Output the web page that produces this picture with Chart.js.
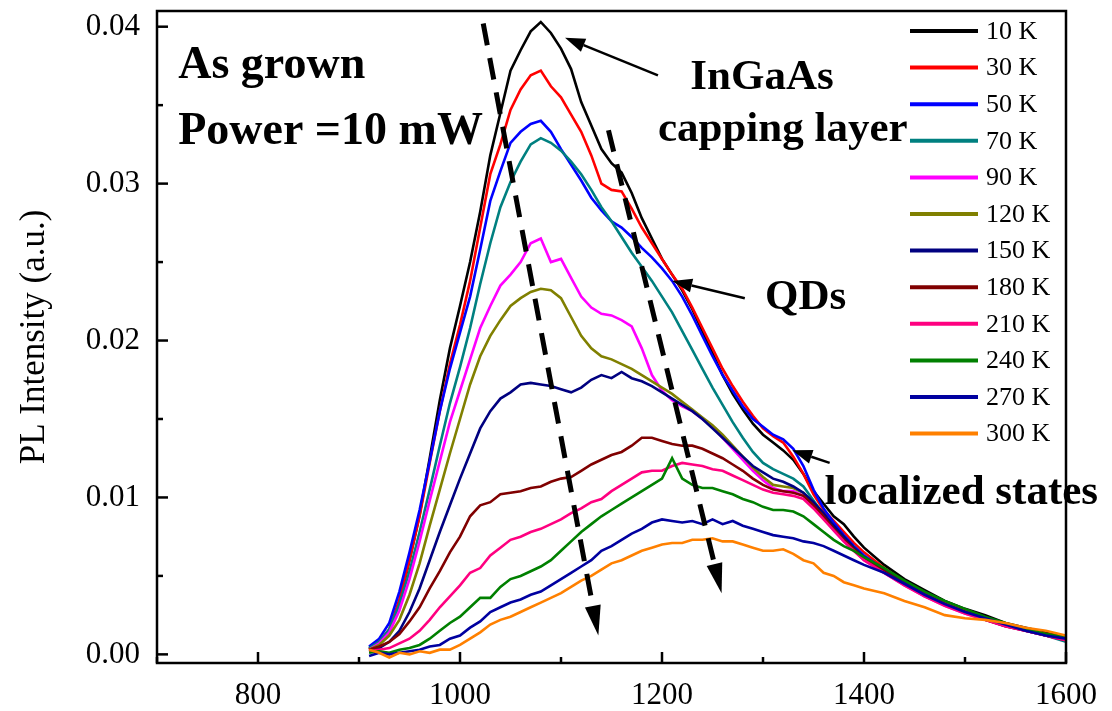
<!DOCTYPE html>
<html>
<head>
<meta charset="utf-8">
<script src="https://cdn.jsdelivr.net/npm/chart.js@4.4.1/dist/chart.umd.min.js"></script>
<style>
  body { margin: 0; background: #fff; }
  canvas { display: block; }
</style>
</head>
<body>
<canvas id="grafico" width="1112" height="711"></canvas>
<script>
// wavelength (nm)
var wavelengths = [
  910, 920, 930, 940, 950, 960, 970, 980, 990, 1000,
  1010, 1020, 1030, 1040, 1050, 1060, 1070, 1080, 1090, 1100,
  1110, 1120, 1130, 1140, 1150, 1160, 1170, 1180, 1190, 1200,
  1210, 1220, 1230, 1240, 1250, 1260, 1270, 1280, 1290, 1300,
  1310, 1320, 1330, 1340, 1350, 1360, 1370, 1380, 1390, 1400,
  1420, 1440, 1460, 1480, 1500, 1520, 1540, 1560, 1580, 1600
];

var temps = ['10 K', '30 K', '50 K', '70 K', '90 K', '120 K', '150 K', '180 K', '210 K', '240 K', '270 K', '300 K'];
var cores = ['#000000', '#ff0000', '#0000ff', '#008080', '#ff00ff', '#808000', '#000080', '#800000', '#ff0080', '#008000', '#0000a0', '#ff8000'];

var pl10 = [
  0.0004, 0.0008, 0.0015, 0.0033, 0.0060, 0.0089, 0.0125, 0.0162, 0.0195, 0.0222,
  0.0250, 0.0282, 0.0318, 0.0345, 0.0372, 0.0385, 0.0397, 0.0403, 0.0396, 0.0386,
  0.0373, 0.0352, 0.0337, 0.0322, 0.0313, 0.0307, 0.0294, 0.0278, 0.0265, 0.0252,
  0.0242, 0.0232, 0.0220, 0.0206, 0.0192, 0.0178, 0.0166, 0.0156, 0.0147, 0.0140,
  0.0135, 0.0130, 0.0124, 0.0115, 0.0104, 0.0096, 0.0088, 0.0083, 0.0075, 0.0068,
  0.0057, 0.0048, 0.0041, 0.0034, 0.0029, 0.0025, 0.0020, 0.0017, 0.0014, 0.0011
];
var pl30 = [
  0.0003, 0.0008, 0.0016, 0.0035, 0.0060, 0.0088, 0.0122, 0.0155, 0.0185, 0.0210,
  0.0238, 0.0272, 0.0306, 0.0325, 0.0347, 0.0360, 0.0369, 0.0372, 0.0362, 0.0355,
  0.0344, 0.0333, 0.0318, 0.0300, 0.0296, 0.0295, 0.0284, 0.0272, 0.0262, 0.0252,
  0.0242, 0.0233, 0.0221, 0.0208, 0.0195, 0.0182, 0.0171, 0.0161, 0.0152, 0.0144,
  0.0139, 0.0135, 0.0126, 0.0115, 0.0102, 0.0092, 0.0085, 0.0078, 0.0071, 0.0065,
  0.0055, 0.0046, 0.0039, 0.0033, 0.0028, 0.0023, 0.0019, 0.0016, 0.0013, 0.0010
];
var pl50 = [
  0.0005, 0.0010, 0.0020, 0.0040, 0.0065, 0.0092, 0.0123, 0.0155, 0.0182, 0.0205,
  0.0228, 0.0258, 0.0289, 0.0308, 0.0326, 0.0333, 0.0338, 0.0340, 0.0333, 0.0322,
  0.0312, 0.0302, 0.0291, 0.0283, 0.0276, 0.0272, 0.0266, 0.0259, 0.0253, 0.0246,
  0.0238, 0.0228, 0.0216, 0.0203, 0.0190, 0.0178, 0.0168, 0.0158, 0.0150, 0.0145,
  0.0140, 0.0137, 0.0131, 0.0120, 0.0105, 0.0093, 0.0084, 0.0076, 0.0069, 0.0063,
  0.0054, 0.0045, 0.0038, 0.0032, 0.0027, 0.0023, 0.0019, 0.0016, 0.0012, 0.0010
];
var pl70 = [
  0.0004, 0.0008, 0.0016, 0.0032, 0.0053, 0.0078, 0.0105, 0.0133, 0.0160, 0.0183,
  0.0208, 0.0236, 0.0262, 0.0285, 0.0301, 0.0314, 0.0325, 0.0329, 0.0326, 0.0321,
  0.0314, 0.0306, 0.0296, 0.0285, 0.0276, 0.0266, 0.0256, 0.0247, 0.0238, 0.0228,
  0.0218, 0.0206, 0.0194, 0.0182, 0.0170, 0.0159, 0.0148, 0.0138, 0.0129, 0.0122,
  0.0118, 0.0115, 0.0112, 0.0107, 0.0098, 0.0089, 0.0081, 0.0074, 0.0068, 0.0062,
  0.0053, 0.0045, 0.0037, 0.0032, 0.0027, 0.0022, 0.0019, 0.0015, 0.0012, 0.0008
];
var pl90 = [
  0.0003, 0.0007, 0.0014, 0.0028, 0.0048, 0.0072, 0.0098, 0.0123, 0.0148, 0.0168,
  0.0188, 0.0208, 0.0222, 0.0235, 0.0242, 0.0250, 0.0262, 0.0265, 0.0250, 0.0252,
  0.0240, 0.0228, 0.0221, 0.0217, 0.0216, 0.0213, 0.0209, 0.0195, 0.0178, 0.0168,
  0.0162, 0.0158, 0.0155, 0.0150, 0.0145, 0.0138, 0.0131, 0.0124, 0.0117, 0.0111,
  0.0106, 0.0104, 0.0104, 0.0101, 0.0094, 0.0087, 0.0079, 0.0072, 0.0066, 0.0060,
  0.0052, 0.0044, 0.0037, 0.0031, 0.0026, 0.0022, 0.0018, 0.0015, 0.0012, 0.0009
];
var pl120 = [
  0.0003, 0.0006, 0.0012, 0.0022, 0.0038, 0.0058, 0.0082, 0.0105, 0.0128, 0.0150,
  0.0172, 0.0190, 0.0203, 0.0213, 0.0222, 0.0227, 0.0231, 0.0233, 0.0232, 0.0227,
  0.0215, 0.0203, 0.0195, 0.0190, 0.0188, 0.0185, 0.0182, 0.0178, 0.0174, 0.0170,
  0.0166, 0.0161, 0.0156, 0.0151, 0.0146, 0.0140, 0.0133, 0.0126, 0.0119, 0.0113,
  0.0108, 0.0107, 0.0106, 0.0103, 0.0096, 0.0088, 0.0080, 0.0073, 0.0067, 0.0061,
  0.0053, 0.0045, 0.0038, 0.0032, 0.0027, 0.0023, 0.0019, 0.0016, 0.0013, 0.0010
];
var pl150 = [
  0.0002, 0.0004, 0.0008, 0.0015, 0.0027, 0.0042, 0.0060, 0.0078, 0.0095, 0.0112,
  0.0128, 0.0144, 0.0155, 0.0163, 0.0167, 0.0172, 0.0173, 0.0172, 0.0171, 0.0169,
  0.0167, 0.0170, 0.0175, 0.0178, 0.0176, 0.0180, 0.0176, 0.0174, 0.0171, 0.0167,
  0.0163, 0.0159, 0.0155, 0.0150, 0.0144, 0.0138, 0.0132, 0.0126, 0.0120, 0.0116,
  0.0112, 0.0110, 0.0107, 0.0103, 0.0097, 0.0090, 0.0082, 0.0075, 0.0068, 0.0062,
  0.0054, 0.0046, 0.0038, 0.0032, 0.0027, 0.0023, 0.0019, 0.0016, 0.0012, 0.0010
];
var pl180 = [
  0.0003, 0.0005, 0.0008, 0.0013, 0.0021, 0.0030, 0.0042, 0.0053, 0.0065, 0.0075,
  0.0088, 0.0095, 0.0097, 0.0102, 0.0103, 0.0104, 0.0106, 0.0107, 0.0110, 0.0112,
  0.0113, 0.0117, 0.0121, 0.0124, 0.0127, 0.0129, 0.0133, 0.0138, 0.0138, 0.0136,
  0.0134, 0.0133, 0.0133, 0.0131, 0.0128, 0.0125, 0.0121, 0.0117, 0.0112, 0.0108,
  0.0105, 0.0104, 0.0103, 0.0101, 0.0095, 0.0088, 0.0080, 0.0073, 0.0067, 0.0061,
  0.0053, 0.0045, 0.0038, 0.0032, 0.0027, 0.0022, 0.0018, 0.0015, 0.0012, 0.0009
];
var pl210 = [
  0.0002, 0.0003, 0.0004, 0.0007, 0.0010, 0.0015, 0.0022, 0.0030, 0.0037, 0.0044,
  0.0052, 0.0055, 0.0063, 0.0068, 0.0073, 0.0075, 0.0078, 0.0080, 0.0083, 0.0086,
  0.0090, 0.0093, 0.0097, 0.0099, 0.0104, 0.0108, 0.0112, 0.0116, 0.0117, 0.0117,
  0.0120, 0.0122, 0.0121, 0.0120, 0.0118, 0.0117, 0.0114, 0.0111, 0.0108, 0.0105,
  0.0103, 0.0102, 0.0101, 0.0099, 0.0093, 0.0086, 0.0079, 0.0072, 0.0066, 0.0060,
  0.0052, 0.0044, 0.0037, 0.0031, 0.0026, 0.0022, 0.0018, 0.0015, 0.0012, 0.0009
];
var pl240 = [
  0.0001, 0.0002, 0.0001, 0.0003, 0.0004, 0.0006, 0.0010, 0.0015, 0.0020, 0.0024,
  0.0030, 0.0036, 0.0036, 0.0043, 0.0048, 0.0050, 0.0053, 0.0056, 0.0060, 0.0066,
  0.0072, 0.0078, 0.0083, 0.0088, 0.0092, 0.0096, 0.0100, 0.0104, 0.0108, 0.0112,
  0.0125, 0.0112, 0.0108, 0.0106, 0.0106, 0.0104, 0.0102, 0.0099, 0.0097, 0.0094,
  0.0092, 0.0092, 0.0091, 0.0088, 0.0083, 0.0078, 0.0073, 0.0069, 0.0066, 0.0062,
  0.0055, 0.0047, 0.0040, 0.0034, 0.0029, 0.0024, 0.0020, 0.0016, 0.0013, 0.0011
];
var pl270 = [
  -0.0001, 0.0001, 0.0000, 0.0001, 0.0002, 0.0003, 0.0005, 0.0006, 0.0010, 0.0012,
  0.0017, 0.0021, 0.0027, 0.0030, 0.0033, 0.0035, 0.0038, 0.0040, 0.0044, 0.0048,
  0.0052, 0.0056, 0.0060, 0.0066, 0.0069, 0.0073, 0.0077, 0.0080, 0.0084, 0.0086,
  0.0085, 0.0084, 0.0085, 0.0083, 0.0086, 0.0083, 0.0085, 0.0082, 0.0080, 0.0078,
  0.0076, 0.0075, 0.0074, 0.0072, 0.0071, 0.0069, 0.0066, 0.0063, 0.0060, 0.0057,
  0.0052, 0.0045, 0.0038, 0.0032, 0.0027, 0.0023, 0.0019, 0.0015, 0.0012, 0.0010
];
var pl300 = [
  0.0003, 0.0001, -0.0002, 0.0001, 0.0000, 0.0002, 0.0001, 0.0003, 0.0003, 0.0006,
  0.0010, 0.0014, 0.0019, 0.0022, 0.0024, 0.0027, 0.0030, 0.0033, 0.0036, 0.0039,
  0.0043, 0.0047, 0.0050, 0.0054, 0.0058, 0.0060, 0.0063, 0.0066, 0.0068, 0.0070,
  0.0071, 0.0071, 0.0073, 0.0073, 0.0074, 0.0072, 0.0072, 0.0070, 0.0068, 0.0066,
  0.0066, 0.0067, 0.0064, 0.0060, 0.0058, 0.0052, 0.0050, 0.0046, 0.0044, 0.0042,
  0.0039, 0.0034, 0.0030, 0.0025, 0.0023, 0.0022, 0.0020, 0.0017, 0.0015, 0.0012
];

var series = [pl10, pl30, pl50, pl70, pl90, pl120, pl150, pl180, pl210, pl240, pl270, pl300];

// text notes and arrows, in data units
var notas = [
  { text: 'As grown', x: 721, y: 0.0367, size: 46 },
  { text: 'Power =10 mW', x: 721, y: 0.0325, size: 46 },
  { text: 'InGaAs', x: 1228, y: 0.0360, size: 43 },
  { text: 'capping layer', x: 1196, y: 0.0327, size: 43 },
  { text: 'QDs', x: 1302, y: 0.0220, size: 43 },
  { text: 'localized states', x: 1361, y: 0.0096, size: 43 }
];
var setas = [
  { x0: 1196, y0: 0.0369, x1: 1104, y1: 0.0393 },
  { x0: 1282, y0: 0.0227, x1: 1210, y1: 0.0238 },
  { x0: 1366, y0: 0.0122, x1: 1329, y1: 0.0130 }
];
var setasTracejadas = [
  { x0: 1023, y0: 0.0402, x1: 1137, y1: 0.0012 },
  { x0: 1147, y0: 0.0334, x1: 1259, y1: 0.0039 }
];

var fonte = '"Liberation Serif", "Times New Roman", serif';

function seta(ctx, ax, ay, bx, by, comp, larg) {
  var ang = Math.atan2(by - ay, bx - ax);
  var cx = bx - comp * Math.cos(ang), cy = by - comp * Math.sin(ang);
  ctx.beginPath();
  ctx.moveTo(ax, ay);
  ctx.lineTo(cx, cy);
  ctx.stroke();
  ctx.setLineDash([]);
  ctx.beginPath();
  ctx.moveTo(bx, by);
  ctx.lineTo(cx + larg * Math.sin(ang), cy - larg * Math.cos(ang));
  ctx.lineTo(cx - larg * Math.sin(ang), cy + larg * Math.cos(ang));
  ctx.closePath();
  ctx.fill();
}

var enfeites = {
  id: 'enfeites',
  beforeDraw(chart) {
    var ctx = chart.ctx;
    ctx.save();
    ctx.fillStyle = '#fff';
    ctx.fillRect(0, 0, chart.width, chart.height);
    ctx.restore();
  },
  afterDraw(chart) {
    var ctx = chart.ctx, a = chart.chartArea;
    var xs = chart.scales.x, ys = chart.scales.y;
    ctx.save();
    ctx.strokeStyle = '#000';
    ctx.fillStyle = '#000';

    // moldura
    ctx.lineWidth = 2.5;
    ctx.strokeRect(a.left, a.top, a.right - a.left, a.bottom - a.top);

    // ticks para dentro
    ctx.lineWidth = 2.5;
    xs.ticks.forEach(function (t) {
      var px = xs.getPixelForValue(t.value);
      var len = t.label ? 11 : 6;
      ctx.beginPath();
      ctx.moveTo(px, a.bottom);
      ctx.lineTo(px, a.bottom - len);
      ctx.stroke();
    });
    ys.ticks.forEach(function (t) {
      var py = ys.getPixelForValue(t.value);
      var len = t.label ? 11 : 6;
      ctx.beginPath();
      ctx.moveTo(a.left, py);
      ctx.lineTo(a.left + len, py);
      ctx.stroke();
    });

    // legenda
    ctx.font = '26px ' + fonte;
    ctx.textBaseline = 'middle';
    ctx.textAlign = 'left';
    chart.data.datasets.forEach(function (ds, i) {
      var y = 31 + i * 36.6;
      ctx.strokeStyle = ds.borderColor;
      ctx.lineWidth = 4;
      ctx.beginPath();
      ctx.moveTo(910, y);
      ctx.lineTo(978, y);
      ctx.stroke();
      ctx.fillStyle = '#000';
      ctx.fillText(ds.label, 986, y + 1);
    });

    // textos
    ctx.textBaseline = 'alphabetic';
    ctx.fillStyle = '#000';
    notas.forEach(function (n) {
      ctx.font = 'bold ' + n.size + 'px ' + fonte;
      ctx.fillText(n.text, xs.getPixelForValue(n.x), ys.getPixelForValue(n.y));
    });

    // setas
    ctx.strokeStyle = '#000';
    ctx.lineWidth = 2.5;
    setas.forEach(function (s) {
      seta(ctx, xs.getPixelForValue(s.x0), ys.getPixelForValue(s.y0),
        xs.getPixelForValue(s.x1), ys.getPixelForValue(s.y1), 20, 7);
    });
    ctx.lineWidth = 5;
    setasTracejadas.forEach(function (s) {
      ctx.setLineDash([22, 13]);
      seta(ctx, xs.getPixelForValue(s.x0), ys.getPixelForValue(s.y0),
        xs.getPixelForValue(s.x1), ys.getPixelForValue(s.y1), 30, 8);
    });
    ctx.restore();
  }
};

var datasets = series.map(function (vals, i) {
  return {
    label: temps[i],
    data: wavelengths.map(function (w, j) { return { x: w, y: vals[j] }; }),
    borderColor: cores[i],
    backgroundColor: cores[i],
    borderWidth: 2.6,
    pointRadius: 0,
    tension: 0,
    fill: false,
    order: series.length - i
  };
});

var ctx = document.getElementById('grafico');
var grafico = new Chart(ctx, {
  type: 'line',
  data: { datasets: datasets },
  plugins: [enfeites],
  options: {
    responsive: false,
    animation: false,
    devicePixelRatio: 1,
    layout: { padding: { left: 0, right: 46, top: 11, bottom: 0 } },
    plugins: {
      legend: { display: false },
      tooltip: { enabled: false }
    },
    scales: {
      x: {
        type: 'linear',
        min: 700,
        max: 1600,
        grid: { display: false, drawTicks: false },
        border: { display: false },
        afterFit: function (s) {
          s.height = 48;
          s.paddingLeft = 0;
          s.paddingRight = 0;
        },
        ticks: {
          stepSize: 100,
          autoSkip: false,
          maxRotation: 0,
          padding: 14,
          color: '#000',
          font: { family: fonte, size: 31 },
          callback: function (v) { return v % 200 === 0 ? String(v) : ''; }
        }
      },
      y: {
        type: 'linear',
        min: -0.00055,
        max: 0.041,
        grid: { display: false, drawTicks: false },
        border: { display: false },
        afterFit: function (s) {
          s.width = 157;
          s.paddingTop = 0;
          s.paddingBottom = 0;
        },
        title: {
          display: true,
          text: 'PL Intensity (a.u.)',
          color: '#000',
          font: { family: fonte, size: 35, lineHeight: 1 },
          padding: { top: 17, bottom: 0 }
        },
        ticks: {
          stepSize: 0.005,
          includeBounds: false,
          autoSkip: false,
          padding: 17,
          color: '#000',
          font: { family: fonte, size: 31 },
          callback: function (v) {
            var k = Math.round(v * 1000);
            return (k % 10 === 0) ? (k / 1000).toFixed(2) : '';
          }
        }
      }
    }
  }
});
</script>
</body>
</html>
